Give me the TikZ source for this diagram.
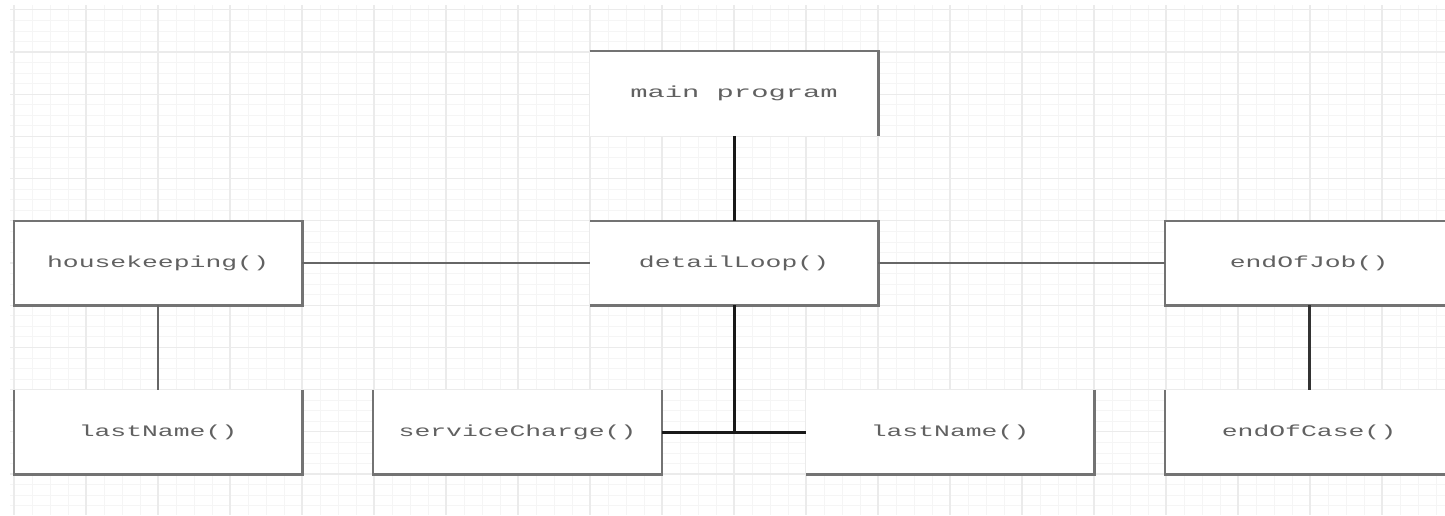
\documentclass[tikz,border=0pt]{standalone}
\usepackage{graphicx}
\usepackage{fontspec}
\setmonofont{Liberation Mono}
\newcommand{\mystretch}[2][1.65]{\scalebox{#1}[1]{#2}}
\tikzset{
  box/.style={rectangle, fill=white, minimum width=144pt, minimum height=42pt, inner sep=0pt,
              font=\ttfamily\fontsize{8}{9}\selectfont, text=black!62},
  edge/.style={draw=black!55, line width=1.1pt},
  thinlink/.style={draw=black!60, line width=0.75pt},
  thicklink/.style={draw=black!90, line width=1.5pt},
  midlink/.style={draw=black!60, line width=1.2pt},
  gridmajor/.style={draw=black!8, line width=0.55pt},
  gridminor/.style={draw=black!4, line width=0.4pt}
}
\begin{document}
\begin{tikzpicture}[x=0.5pt,y=-0.5pt]
\useasboundingbox (0,0) rectangle (1445,515);
\fill[white] (0,0) rectangle (1445,515);
% grid
\foreach \i in {0,...,80} {
  \draw[gridminor] ({14+18*\i},5) -- ({14+18*\i},515);
}
\foreach \j in {-4,...,44} {
  \draw[gridminor] (10,{52+10.55*\j}) -- (1445,{52+10.55*\j});
}
\foreach \i in {0,...,19} {
  \draw[gridmajor] ({14+72*\i},5) -- ({14+72*\i},515);
}
\foreach \j in {-1,...,11} {
  \draw[gridmajor] (10,{52+42.2*\j}) -- (1445,{52+42.2*\j});
}
% nodes
\node[box] (main) at (734,93.5) {\mystretch[1.8]{main program}};
\node[box] (hk)   at (158,263)  {\mystretch{housekeeping()}};
\node[box] (dl)   at (734,263)  {\mystretch{detailLoop()}};
\node[box] (eoj)  at (1309,263) {\mystretch{endOfJob()}};
\node[box] (ln1)  at (158,432)  {\mystretch{lastName()}};
\node[box] (sc)   at (517.5,432) {\mystretch{serviceCharge()}};
\node[box] (ln2)  at (950,432)  {\mystretch{lastName()}};
\node[box] (eoc)  at (1309,432) {\mystretch{endOfCase()}};
% partial borders
\draw[edge] (main.north west) -- (main.north east) -- (main.south east);
\draw[edge] (hk.north west) rectangle (hk.south east);
\draw[edge] (dl.north west) -- (dl.north east) -- (dl.south east) -- (dl.south west);
\draw[edge] (eoj.north east) -- (eoj.north west) -- (eoj.south west) -- (eoj.south east);
\draw[edge] (ln1.north west) -- (ln1.south west) -- (ln1.south east) -- (ln1.north east);
\draw[edge] (sc.north west) -- (sc.south west) -- (sc.south east) -- (sc.north east);
\draw[edge] (ln2.south west) -- (ln2.south east) -- (ln2.north east);
\draw[edge] (eoc.north west) -- (eoc.south west) -- (eoc.south east);
% connectors
\coordinate (T) at (dl.south |- sc.east);
\draw[thicklink] (main.south) -- (dl.north);
\draw[thinlink] (hk.east) -- (dl.west);
\draw[thinlink] (dl.east) -- (eoj.west);
\draw[midlink] (hk.south) -- (ln1.north);
\draw[thicklink] (dl.south) -- (T);
\draw[thicklink] (sc.east) -- (ln2.west);
\draw[thicklink, draw=black!80] (eoj.south) -- (eoc.north);
\end{tikzpicture}
\end{document}
